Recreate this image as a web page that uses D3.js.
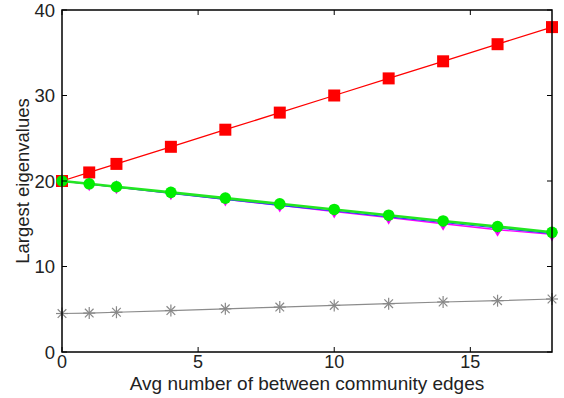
<!DOCTYPE html>
<html>
<head>
<meta charset="utf-8">
<script src="https://cdn.jsdelivr.net/npm/d3@7"></script>
<style>
  html, body { margin: 0; padding: 0; background: #fff; }
  svg { display: block; font-family: "Liberation Sans", Arial, Helvetica, sans-serif; }
</style>
</head>
<body>
<svg id="chart" width="564" height="398"></svg>
<script>
// Average number of between-community edges
const xValues = [0, 1, 2, 4, 6, 8, 10, 12, 14, 16, 18];
// Largest eigenvalues for each series
const redValues     = [20, 21, 22, 24, 26, 28, 30, 32, 34, 36, 38];
const greenValues   = [20, 19.67, 19.33, 18.67, 18, 17.33, 16.67, 16, 15.33, 14.67, 14];
const blueValues    = [20, 19.63, 19.27, 18.55, 17.85, 17.15, 16.5, 15.8, 15.15, 14.5, 13.85];
const magentaValues = [20, 19.64, 19.28, 18.57, 17.86, 17.14, 16.43, 15.72, 15.0, 14.3, 13.75];
const grayValues    = [4.5, 4.55, 4.65, 4.85, 5.05, 5.25, 5.45, 5.65, 5.85, 6.0, 6.2];
const xTicks = [0, 5, 10, 15];
const yTicks = [0, 10, 20, 30, 40];

const svg = d3.select("#chart");
const mLeft = 62, mRight = 552, mTop = 10, mBottom = 352;

const x = d3.scaleLinear().domain([0, 18]).range([mLeft, mRight]);
const y = d3.scaleLinear().domain([0, 40]).range([mBottom, mTop]);

const line = vals => d3.line()
  .x((d, i) => x(xValues[i]))
  .y(d => y(d))(vals);

const plot = svg.append("g");

// gray series with asterisks
plot.append("path").attr("d", line(grayValues))
  .attr("fill", "none").attr("stroke", "#8c8c8c").attr("stroke-width", 1.2);
grayValues.forEach((v, i) => {
  const cx = x(xValues[i]), cy = y(v), r = 6;
  const g = plot.append("g").attr("stroke", "#888").attr("stroke-width", 1.2);
  [[0, 1], [1, 0], [0.72, 0.72], [0.72, -0.72]].forEach(([dx, dy]) => {
    g.append("line")
      .attr("x1", cx - dx * r).attr("y1", cy - dy * r)
      .attr("x2", cx + dx * r).attr("y2", cy + dy * r);
  });
});

// red series with squares
plot.append("path").attr("d", line(redValues))
  .attr("fill", "none").attr("stroke", "#ff0000").attr("stroke-width", 1.3);
plot.selectAll(".red").data(redValues).join("rect")
  .attr("x", (d, i) => x(xValues[i]) - 6).attr("y", d => y(d) - 6)
  .attr("width", 12).attr("height", 12).attr("fill", "#ff0000");

// magenta series
plot.append("path").attr("d", line(magentaValues))
  .attr("fill", "none").attr("stroke", "#ff00ff").attr("stroke-width", 1.3);
plot.selectAll(".mag").data(magentaValues).join("path")
  .attr("transform", (d, i) => `translate(${x(xValues[i])},${y(d) + 0.5})`)
  .attr("d", d3.symbol().type(d3.symbolDiamond).size(50)).attr("fill", "#ff00ff");

// blue series
plot.append("path").attr("d", line(blueValues))
  .attr("fill", "none").attr("stroke", "#2040ff").attr("stroke-width", 1.1);
plot.selectAll(".blu").data(blueValues).join("path")
  .attr("transform", (d, i) => `translate(${x(xValues[i])},${y(d) - 1})`)
  .attr("d", d3.symbol().type(d3.symbolDiamond).size(40)).attr("fill", "#2030e0");

// green series
plot.append("path").attr("d", line(greenValues))
  .attr("fill", "none").attr("stroke", "#22e622").attr("stroke-width", 2.6);
plot.selectAll(".grn").data(greenValues).join("circle")
  .attr("cx", (d, i) => x(xValues[i])).attr("cy", d => y(d))
  .attr("r", 5.8).attr("fill", "#00ee00");

// axes box with inward ticks on all sides
const axes = svg.append("g");
axes.append("rect").attr("x", mLeft).attr("y", mTop)
  .attr("width", mRight - mLeft).attr("height", mBottom - mTop)
  .attr("fill", "none").attr("stroke", "#000").attr("stroke-width", 1.5);

const tl = 5;
xTicks.forEach(t => {
  axes.append("line").attr("x1", x(t)).attr("x2", x(t))
    .attr("y1", mBottom).attr("y2", mBottom - tl).attr("stroke", "#000");
  axes.append("line").attr("x1", x(t)).attr("x2", x(t))
    .attr("y1", mTop).attr("y2", mTop + tl).attr("stroke", "#000");
  axes.append("text").attr("x", x(t)).attr("y", mBottom + 16)
    .attr("text-anchor", "middle").attr("font-size", 18).attr("fill", "#222").text(t);
});
yTicks.forEach(t => {
  axes.append("line").attr("x1", mLeft).attr("x2", mLeft + tl)
    .attr("y1", y(t)).attr("y2", y(t)).attr("stroke", "#000");
  axes.append("line").attr("x1", mRight).attr("x2", mRight - tl)
    .attr("y1", y(t)).attr("y2", y(t)).attr("stroke", "#000");
  axes.append("text").attr("x", mLeft - 7).attr("y", y(t) + 6.5)
    .attr("text-anchor", "end").attr("font-size", 18.5).attr("fill", "#222").text(t);
});

svg.append("text").attr("x", (mLeft + mRight) / 2).attr("y", 390)
  .attr("text-anchor", "middle").attr("font-size", 19).attr("fill", "#222")
  .text("Avg number of between community edges");
svg.append("text").attr("transform", `translate(29,${(mTop + mBottom) / 2}) rotate(-90)`)
  .attr("text-anchor", "middle").attr("font-size", 18.5).attr("fill", "#222")
  .text("Largest eigenvalues");
</script>
</body>
</html>
